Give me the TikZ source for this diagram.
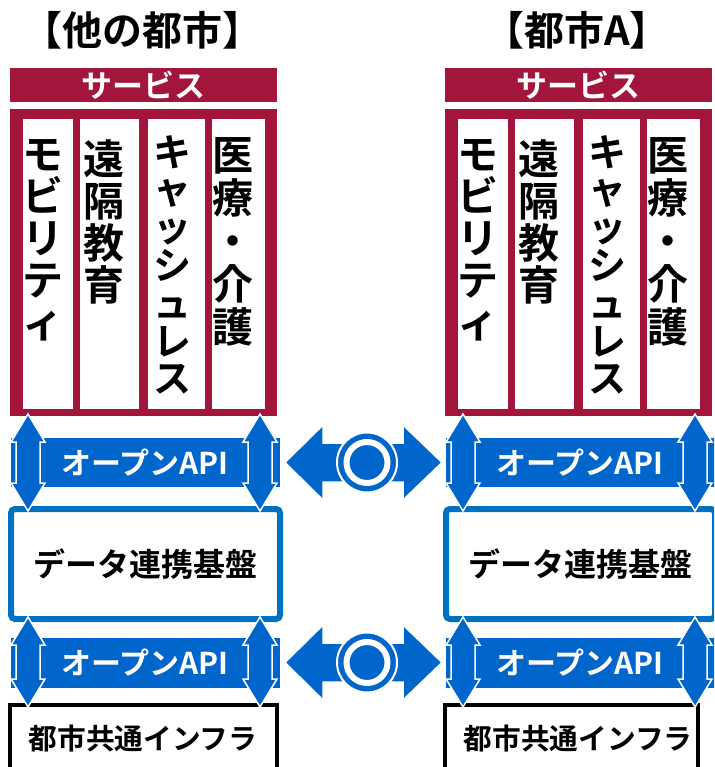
\documentclass[tikz,border=0pt]{standalone}
\usepackage{fontspec}
\setmainfont{Noto Sans CJK JP}[BoldFont={Noto Sans CJK JP Bold}]
\definecolor{burg}{RGB}{161,22,58}
\definecolor{apiblue}{RGB}{0,102,204}
\definecolor{boxblue}{RGB}{0,112,192}
\tikzset{
  titletext/.style={inner sep=0pt, font=\bfseries\fontsize{40}{44}\selectfont},
  svcbar/.style={fill=burg, inner sep=0pt, text=white, font=\bfseries\fontsize{31}{34}\selectfont},
  mainbox/.style={fill=burg, inner sep=0pt},
  colbox/.style={fill=white, inner sep=0pt},
  coltext/.style={anchor=north, inner sep=0pt, align=center, font=\bfseries\fontsize{41}{42}\selectfont},
  band/.style={fill=apiblue, inner sep=0pt},
  bandtext/.style={inner sep=0pt, text=white, font=\bfseries\fontsize{30}{32}\selectfont},
  databox/.style={draw=boxblue, line width=6pt, rounded corners=4pt, fill=white, inner sep=0pt, font=\bfseries\fontsize{32}{36}\selectfont},
  infrabox/.style={draw=black, line width=3.5pt, fill=white, inner sep=0pt},
  infratext/.style={inner sep=0pt, font=\bfseries\fontsize{28.7}{32}\selectfont},
  arrowshape/.style={fill=apiblue, draw=white, line width=1.5pt, line join=miter},
}
% vertical double arrow: x, ytop, ybot
\newcommand{\vdarrow}[3]{%
  \filldraw[arrowshape] (#1,#2) -- (#1+17,#2+28) -- (#1+12,#2+28) -- (#1+12,#3-28) -- (#1+17,#3-28)
    -- (#1,#3) -- (#1-17,#3-28) -- (#1-12,#3-28) -- (#1-12,#2+28) -- (#1-17,#2+28) -- cycle;}
% horizontal connector with circle: name, y
\newcommand{\hdconn}[2]{%
  \filldraw[arrowshape] (285,#2) -- (323,#2-37.5) -- (323,#2-19.5) -- (403,#2-19.5) -- (403,#2-37.5)
    -- (442,#2) -- (403,#2+37.5) -- (403,#2+19.5) -- (323,#2+19.5) -- (323,#2+37.5) -- cycle;
  \node[circle, fill=apiblue, draw=white, line width=2pt, minimum size=60pt, inner sep=0pt] (#1) at (367,#2) {};
  \draw[white, line width=6pt] (#1.center) circle[radius=20.5pt];}
% one city: prefix, xshift, title, infra right edge, band width
\newcommand{\drawcity}[5]{%
  \begin{scope}[xshift=#2pt]
    \node[titletext] (#1title) at (142,30) {#3};
    \node[svcbar, minimum width=267pt, minimum height=34pt] (#1svc) at (143.5,85) {サービス};
    \node[mainbox, minimum width=267pt, minimum height=307pt] (#1main) at (143.5,262.5) {};
    \node[colbox, minimum width=50pt, minimum height=290pt] (#1c1) at (48,264) {};
    \node[colbox, minimum width=59pt, minimum height=290pt] (#1c2) at (109.5,264) {};
    \node[colbox, minimum width=57pt, minimum height=290pt] (#1c3) at (176.5,264) {};
    \node[colbox, minimum width=53pt, minimum height=290pt] (#1c4) at (238.5,264) {};
    \node[coltext] (#1t1) at (43,139) {モ\\ビ\\リ\\テ\\ィ};
    \node[coltext] (#1t2) at (104,139) {遠\\隔\\教\\育};
    \node[coltext, font=\bfseries\fontsize{38}{37.8}\selectfont] (#1t3) at (172,135) {キ\\ャ\\ッ\\シ\\ュ\\レ\\ス};
    \node[coltext, font=\bfseries\fontsize{41}{43}\selectfont] (#1t4) at (233,137) {医\\療\\・\\介\\護};
    % data box
    \node[databox, minimum width=269pt, minimum height=110pt] (#1data) at (145.5,564) {データ連携基盤};
    % infra box
    \draw[infrabox] (10,780) |- (#4,705) -- (#4,780);
    \node[infratext] (#1infra) at (143,739) {都市共通インフラ};
    % API bands
    \node[band, minimum width=#5pt, minimum height=49pt, anchor=west] (#1api1) at (11,462.5) {};
    \node[band, minimum width=#5pt, minimum height=50pt, anchor=west] (#1api2) at (11,662.5) {};
    \node[bandtext] (#1apitext1) at (145,463) {オープンAPI};
    \node[bandtext] (#1apitext2) at (145,663) {オープンAPI};
    % vertical arrows
    \vdarrow{28}{414}{511}
    \vdarrow{260}{414}{511}
    \vdarrow{28}{617}{707}
    \vdarrow{260}{617}{707}
  \end{scope}}
\begin{document}
\begin{tikzpicture}[x=1pt,y=-1pt]
  \useasboundingbox (0,0) rectangle (714,767);
  \clip (0,0) rectangle (714,767);
  \drawcity{L}{0}{【他の都市】}{277}{269}
  \drawcity{R}{435}{【都市A】}{263}{290}
  \hdconn{m1}{462.5}
  \hdconn{m2}{662.5}
\end{tikzpicture}
\end{document}
